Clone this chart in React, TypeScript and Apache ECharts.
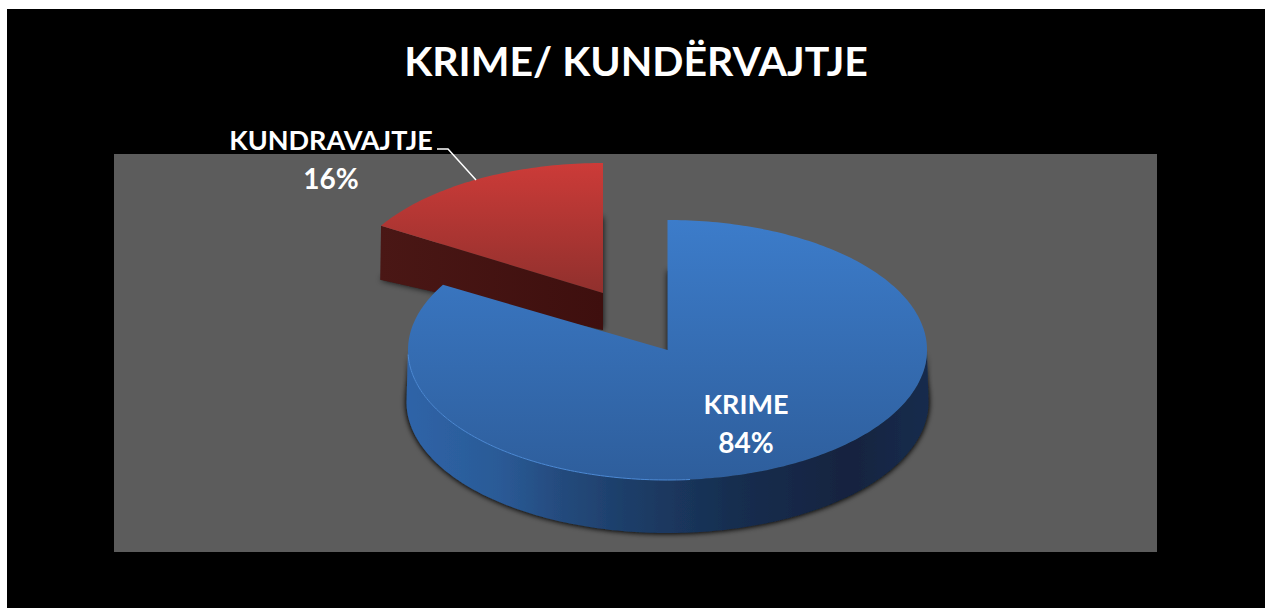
import React, { useEffect, useRef } from "react";
import * as echarts from "echarts";

const titleText = "KRIME/ KUNDËRVAJTJE";
const categories = ["KRIME", "KUNDRAVAJTJE"];
const shares = [84, 16];

const FONT = "Lato, 'Open Sans', sans-serif";
const OX = 7;
const OY = 9;
const total = shares.reduce((a, b) => a + b, 0);

type Ell = { cx: number; cy: number; rx: number; ry: number };
const pt = (e: Ell, deg: number): number[] => {
  const r = (deg * Math.PI) / 180;
  return [e.cx + e.rx * Math.sin(r) - OX, e.cy - e.ry * Math.cos(r) - OY];
};
const arc = (e: Ell, a0: number, a1: number): number[][] => {
  const n = Math.max(2, Math.ceil(Math.abs(a1 - a0)));
  const out: number[][] = [];
  for (let i = 0; i <= n; i++) out.push(pt(e, a0 + ((a1 - a0) * i) / n));
  return out;
};
const lg = (horizontal: boolean, stops: [number, string][]) =>
  new echarts.graphic.LinearGradient(0, 0, horizontal ? 1 : 0, horizontal ? 0 : 1,
    stops.map(([offset, color]) => ({ offset, color })));

// Perspective of the 3-D view: the drawn angles are nudged a little from the true ones.
const looks = [
  {
    top: { cx: 667.5, cy: 350, rx: 259.5, ry: 130 },
    bottom: { cx: 667.5, cy: 402, rx: 261, ry: 131 },
    apexDepth: 52,
    startNudge: 0,
    endNudge: -2.3,
    topFill: [[0, "#3c7cca"], [1, "#2e5e9c"]] as [number, string][],
    wallFill: [
      [0, "#2f64a8"], [0.18, "#2a5a96"], [0.3, "#244a7c"], [0.42, "#1d3e69"],
      [0.62, "#172e50"], [0.85, "#12233f"], [1, "#152c4d"],
    ] as [number, string][],
    label: [746, 403, 442],
  },
  {
    top: { cx: 603, cy: 293, rx: 259.5, ry: 130 },
    bottom: { cx: 603, cy: 347, rx: 260.5, ry: 130 },
    apexDepth: 37,
    startNudge: -1.2,
    endNudge: 0,
    topFill: [[0, "#cc3b38"], [1, "#90302d"]] as [number, string][],
    wallFill: [[0, "#4a1715"], [1, "#3e0f0e"]] as [number, string][],
    label: [331, 139, 178],
  },
];

const renderSlice = (_p: any, api: any) => {
  const idx = api.value(0) as number;
  const v = api.value(1) as number;
  const before = shares.slice(0, idx).reduce((a, b) => a + b, 0);
  const L = looks[idx];
  const a0 = (before / total) * 360 + L.startNudge;
  const a1 = ((before + v) / total) * 360 + L.endNudge;
  const apexTop = [L.top.cx - OX, L.top.cy - OY];
  const apexBottom = [L.top.cx - OX, L.top.cy + L.apexDepth - OY];
  const children: any[] = [];

  children.push({
    type: "polygon",
    shape: { points: [apexBottom, ...arc(L.bottom, a0, a1)] },
    style: { fill: "#2a2a2a", shadowBlur: 6, shadowColor: "rgba(0,0,0,0.85)" },
  });

  if (a1 - a0 > 180) {
    children.push({
      type: "polygon",
      shape: { points: [...arc(L.top, 90, 270), ...arc(L.bottom, 270, 90)] },
      style: { fill: lg(true, L.wallFill), shadowBlur: 5, shadowColor: "rgba(0,0,0,0.7)" },
    });
  } else {
    children.push({
      type: "polygon",
      shape: { points: [pt(L.top, a0), apexTop, apexBottom, pt(L.bottom, a0)] },
      style: { fill: lg(true, L.wallFill) },
    });
  }

  children.push({
    type: "polygon",
    shape: { points: [apexTop, ...arc(L.top, a0, a1)] },
    style: { fill: lg(false, L.topFill) },
  });

  if (a1 - a0 > 180) {
    children.push({
      type: "polyline",
      shape: { points: arc(L.top, 175, 268) },
      style: { stroke: "#4c8ad6", lineWidth: 1, fill: "none" },
    });
  } else {
    children.push({
      type: "polyline",
      shape: { points: [[437 - OX, 149 - OY], [448 - OX, 149 - OY], [476 - OX, 180 - OY]] },
      style: { stroke: "#ffffff", lineWidth: 1.5, fill: "none" },
    });
  }

  const common = {
    fill: "#ffffff",
    font: `bold 27px ${FONT}`,
    textAlign: "center",
    textVerticalAlign: "middle",
  };
  children.push({
    type: "text",
    style: { ...common, text: categories[idx], x: L.label[0] - OX, y: L.label[1] - OY },
  });
  children.push({
    type: "text",
    style: { ...common, font: `bold 28px ${FONT}`, text: `${v}%`, x: L.label[0] - OX, y: L.label[2] - OY },
  });

  return { type: "group", children };
};

export default function App() {
  const ref = useRef<HTMLDivElement>(null);
  useEffect(() => {
    if (!ref.current) return;
    const chart = echarts.init(ref.current, undefined, { renderer: "svg" });
    chart.setOption({
      animation: false,
      backgroundColor: "#000000",
      title: {
        text: titleText,
        left: "center",
        top: 26,
        textStyle: { color: "#ffffff", fontSize: 41, fontWeight: "bold", fontFamily: FONT },
      },
      graphic: [
        {
          type: "rect",
          z: -1,
          silent: true,
          shape: { x: 114 - OX, y: 154 - OY, width: 1043, height: 398 },
          style: { fill: "#5c5c5c" },
        },
      ],
      series: [
        {
          type: "custom",
          coordinateSystem: "none",
          renderItem: renderSlice,
          silent: true,
          data: shares.map((v, i) => [i, v]).reverse(),
        },
      ],
    });
    return () => chart.dispose();
  }, []);
  return (
    <div
      ref={ref}
      style={{ position: "absolute", left: OX, top: OY, width: 1265 - OX, height: 608 - OY }}
    />
  );
}
